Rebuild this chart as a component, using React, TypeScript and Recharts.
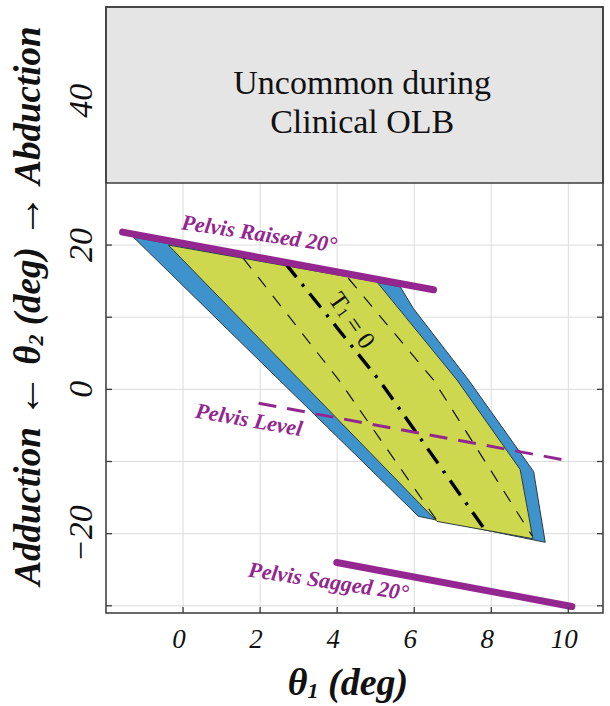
import React from 'react';
import { ComposedChart, XAxis, YAxis, CartesianGrid, ReferenceArea, Scatter } from 'recharts';

// ---------------- data ----------------
const xTicks = [0, 2, 4, 6, 8, 10];
const yTicks = [-30, -20, -10, 0, 10, 20, 30, 40, 50];
const yLabeled = [-20, 0, 20, 40];
const xDomain = [-2, 10.9];
const yDomain = [-31, 53];

// outer (blue) feasible region
const outerX = [-1.29, 5.64, 5.98, 7.41, 9.1, 9.4, 6.11];
const outerY = [21.1, 14.2, 11.2, 1.3, -11.4, -21.2, -17.6];
// inner (yellow-green) region
const innerX = [-0.38, 5.03, 7.11, 8.75, 9.08, 6.59];
const innerY = [20.0, 14.9, 1.3, -11.1, -20.7, -18.3];

// pelvis lines
const raisedX = [-1.57, 6.5];
const raisedY = [21.8, 13.8];
const levelX = [1.96, 10.04];
const levelY = [-1.93, -9.93];
const saggedX = [3.99, 10.09];
const saggedY = [-24.0, -30.1];

// T1 = 0 and iso lines
const t1X = [2.65, 5.12, 7.84];
const t1Y = [17.5, 1.07, -19.5];
const isoAX = [1.56, 4.08, 6.59];
const isoAY = [18.2, 1.03, -18.2];
const isoBX = [4.29, 6.5, 9.06];
const isoBY = [15.4, 1.3, -20.3];

// uncommon region (theta2 range)
const uncommonY = [28.6, 53];
const uncommonLines = ['Uncommon during', 'Clinical OLB'];
const uncommonAnchor = { x: 4.65, y: 41.0 };

const pelvisLabels = [
  { x: 1.95, y: 20.6, text: 'Pelvis Raised 20°', angle: 8.5 },
  { x: 1.68, y: -5.2, text: 'Pelvis Level', angle: 10 },
  { x: 3.75, y: -27.6, text: 'Pelvis Sagged 20°', angle: 8.5 },
];
const t1Label = { x: 4.4, y: 9.6, angle: 55 };

// ---------------- style ----------------
const W = 610;
const H = 706;
const PLOT_LEFT = 106;
const PLOT_RIGHT = 603;
const PLOT_TOP = 7;
const PLOT_BOTTOM = 613;
const SERIF = '"Liberation Serif", "Times New Roman", serif';
const PURPLE = '#93278f';
const BLUE = '#3f93cd';
const YELLOW = '#cdd84f';
const FRAME = '#3c3c3c';
const GRID = '#dcdcdc';

const pts = (xs: number[], ys: number[]) => xs.map((x, i) => ({ x, y: ys[i] }));
const noShape = () => <g />;

const polygonLine = (fill: string) => (p: any) => {
  const list = (p.points || []) as { x: number; y: number }[];
  const d = list.map((q, i) => `${i ? 'L' : 'M'}${q.x},${q.y}`).join(' ') + ' Z';
  return <path d={d} fill={fill} stroke="#2f3a40" strokeWidth={1} strokeLinejoin="round" />;
};

const XTick = (props: any) => {
  const { x, payload } = props;
  return (
    <g>
      <line x1={x} x2={x} y1={PLOT_BOTTOM} y2={PLOT_BOTTOM - 6} stroke={FRAME} strokeWidth={1.3} />
      <text x={x - 4} y={648} textAnchor="middle" fontFamily={SERIF} fontStyle="italic" fontSize={27} fill="#111">
        {payload.value}
      </text>
    </g>
  );
};

const YTick = (props: any) => {
  const { y, payload } = props;
  const v = payload.value as number;
  const showTick = v < uncommonY[0];
  const label = yLabeled.includes(v) ? (v < 0 ? '−' + Math.abs(v) : String(v)) : null;
  return (
    <g>
      {showTick && (
        <>
          <line x1={PLOT_LEFT} x2={PLOT_LEFT + 6} y1={y} y2={y} stroke={FRAME} strokeWidth={1.3} />
          <line x1={PLOT_RIGHT} x2={PLOT_RIGHT - 6} y1={y} y2={y} stroke={FRAME} strokeWidth={1.3} />
        </>
      )}
      {label && (
        <text
          x={92}
          y={y}
          transform={`rotate(-90 92 ${y})`}
          textAnchor="middle"
          fontFamily={SERIF}
          fontStyle="italic"
          fontSize={34}
          fill="#111"
        >
          {label}
        </text>
      )}
    </g>
  );
};

const PelvisText = (p: any) => {
  const { cx, cy, payload } = p;
  return (
    <text
      x={cx}
      y={cy}
      transform={`rotate(${payload.angle} ${cx} ${cy})`}
      textAnchor="middle"
      fontFamily={SERIF}
      fontStyle="italic"
      fontWeight="bold"
      fontSize={22}
      fill={PURPLE}
    >
      {payload.text}
    </text>
  );
};

const T1Text = (p: any) => {
  const { cx, cy, payload } = p;
  return (
    <text
      x={cx}
      y={cy}
      transform={`rotate(${payload.angle} ${cx} ${cy})`}
      textAnchor="middle"
      dominantBaseline="central"
      fontFamily={SERIF}
      fontSize={25}
      fill="#111"
    >
      T<tspan fontSize={15} dy={4}>1</tspan>
      <tspan dy={-4}> = 0</tspan>
    </text>
  );
};

const UncommonText = (p: any) => {
  const { cx, cy } = p;
  return (
    <text x={cx} y={cy} textAnchor="middle" fontFamily={SERIF} fontSize={34} fill="#111">
      <tspan x={cx} y={cy}>{uncommonLines[0]}</tspan>
      <tspan x={cx} y={cy + 39}>{uncommonLines[1]}</tspan>
    </text>
  );
};

export default function App() {
  return (
    <div style={{ position: 'absolute', left: 0, top: 0, width: W, height: H, background: '#fff' }}>
      <ComposedChart
        width={W}
        height={H}
        margin={{ top: PLOT_TOP, right: W - PLOT_RIGHT, bottom: 0, left: 0 }}
      >
        <CartesianGrid stroke={GRID} strokeWidth={1} />
        <XAxis
          type="number"
          dataKey="x"
          domain={xDomain}
          ticks={xTicks}
          interval={0}
          allowDataOverflow
          height={H - PLOT_BOTTOM}
          axisLine={false}
          tickLine={false}
          tick={<XTick />}
        />
        <YAxis
          type="number"
          dataKey="y"
          domain={yDomain}
          ticks={yTicks}
          interval={0}
          allowDataOverflow
          width={PLOT_LEFT}
          axisLine={false}
          tickLine={false}
          tick={<YTick />}
        />
        <ReferenceArea
          x1={xDomain[0]}
          x2={xDomain[1]}
          y1={uncommonY[0]}
          y2={uncommonY[1]}
          fill="#e5e5e5"
          fillOpacity={1}
          stroke={FRAME}
          strokeWidth={1.5}
        />
        <ReferenceArea
          x1={xDomain[0]}
          x2={xDomain[1]}
          y1={yDomain[0]}
          y2={yDomain[1]}
          fill="none"
          fillOpacity={0}
          stroke={FRAME}
          strokeWidth={1.5}
        />
        <Scatter data={pts(outerX, outerY)} line={polygonLine(BLUE)} shape={noShape} isAnimationActive={false} />
        <Scatter data={pts(innerX, innerY)} line={polygonLine(YELLOW)} shape={noShape} isAnimationActive={false} />
        <Scatter
          data={pts(isoAX, isoAY)}
          line={{ stroke: '#111', strokeWidth: 1.2, strokeDasharray: '13 11' }}
          shape={noShape}
          isAnimationActive={false}
        />
        <Scatter
          data={pts(isoBX, isoBY)}
          line={{ stroke: '#111', strokeWidth: 1.2, strokeDasharray: '13 11' }}
          shape={noShape}
          isAnimationActive={false}
        />
        <Scatter
          data={pts(t1X, t1Y)}
          line={{ stroke: '#000', strokeWidth: 3.4, strokeDasharray: '18 9 3 9' }}
          shape={noShape}
          isAnimationActive={false}
        />
        <Scatter
          data={pts(levelX, levelY)}
          line={{ stroke: PURPLE, strokeWidth: 3, strokeDasharray: '18 11' }}
          shape={noShape}
          isAnimationActive={false}
        />
        <Scatter
          data={pts(raisedX, raisedY)}
          line={{ stroke: PURPLE, strokeWidth: 7, strokeLinecap: 'round' }}
          shape={noShape}
          isAnimationActive={false}
        />
        <Scatter
          data={pts(saggedX, saggedY)}
          line={{ stroke: PURPLE, strokeWidth: 7, strokeLinecap: 'round' }}
          shape={noShape}
          isAnimationActive={false}
        />
        <Scatter data={pelvisLabels} shape={PelvisText} isAnimationActive={false} />
        <Scatter data={[t1Label]} shape={T1Text} isAnimationActive={false} />
        <Scatter data={[uncommonAnchor]} shape={UncommonText} isAnimationActive={false} />
      </ComposedChart>
      <svg width={W} height={H} style={{ position: 'absolute', left: 0, top: 0, pointerEvents: 'none' }}>
        <text
          x={348}
          y={695}
          textAnchor="middle"
          fontFamily={SERIF}
          fontStyle="italic"
          fontWeight="bold"
          fontSize={38}
          fill="#111"
        >
          θ<tspan fontSize={22} dy={3}>1</tspan>
          <tspan dy={-3}> (deg)</tspan>
        </text>
        <text
          x={40}
          y={306}
          transform="rotate(-90 40 306)"
          textAnchor="middle"
          fontFamily={SERIF}
          fontStyle="italic"
          fontWeight="bold"
          fontSize={37}
          fill="#111"
        >
          Adduction <tspan fontSize={44} fontWeight="normal" fontStyle="normal">←</tspan> θ
          <tspan fontSize={22} dy={3}>2</tspan>
          <tspan dy={-3}> (deg) </tspan>
          <tspan fontSize={44} fontWeight="normal" fontStyle="normal">→</tspan> Abduction
        </text>
      </svg>
    </div>
  );
}
